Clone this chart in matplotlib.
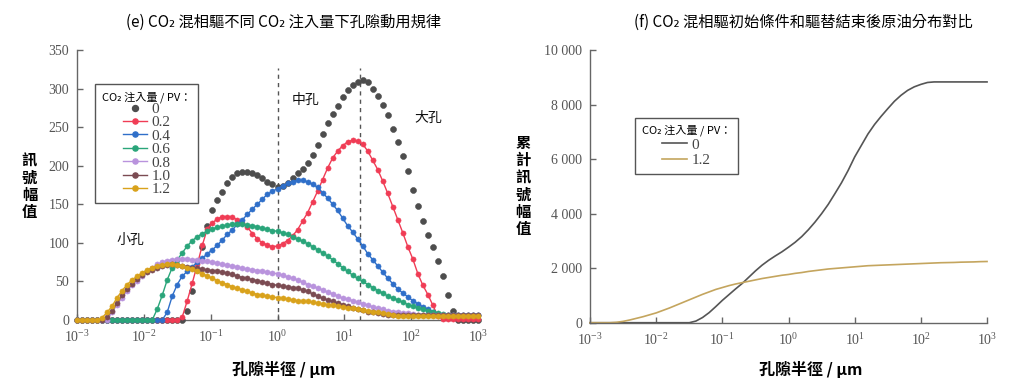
import numpy as np
import matplotlib
matplotlib.use('Agg')
import matplotlib.pyplot as plt
from matplotlib.lines import Line2D
from matplotlib.ticker import NullLocator

plt.rcParams['font.family'] = ['Noto Sans CJK TC', 'DejaVu Sans']
plt.rcParams['mathtext.fontset'] = 'custom'
plt.rcParams['mathtext.rm'] = 'Liberation Serif'
plt.rcParams['mathtext.it'] = 'Liberation Serif:italic'
plt.rcParams['mathtext.bf'] = 'Liberation Serif:bold'

# ---------------- data: panel (e) ----------------
radius_e = np.logspace(-3, 3, 81)   # pore radius bins, um
series_labels = ['0', '0.2', '0.4', '0.6', '0.8', '1.0', '1.2']

amp_00 = [0, 0, 0, 0, 0, 0, 0, 0, 0, 0, 0, 0, 0, 0, 0, 0, 0, 0, 0, 0, 0, 0,
          12, 38, 65, 95, 122, 142, 156, 166, 178, 185, 190, 192, 192, 190, 188, 184, 179, 176, 173,
          174, 178, 184, 190, 196, 203, 214, 227, 241, 255, 267, 278, 289, 298, 305, 309, 311,
          308, 300, 290, 279, 266, 248, 231, 212, 193, 169, 148, 128, 110, 94, 76, 57, 32, 12,
          0, 0, 0, 0, 0]
amp_02 = [0, 0, 0, 0, 0, 0, 0, 0, 0, 0, 0, 0, 0, 0, 0, 0, 0, 0, 0, 0, 0,
          4, 25, 48, 72, 97, 118, 126, 131, 134, 134, 133, 130, 126, 120, 112, 105, 100, 97, 95, 96,
          99, 103, 109, 117, 128, 139, 153, 167, 182, 197, 210, 219, 226, 231, 233, 232, 228,
          219, 207, 195, 180, 164, 147, 130, 113, 95, 79, 60, 45, 33, 19, 5,
          1, 1, 1, 1, 1, 1, 1, 1]
amp_04 = [0, 0, 0, 0, 0, 0, 0, 0, 0, 0, 0, 0, 0, 0, 0, 0, 0, 0,
          10, 31, 46, 57, 63, 69, 75, 80, 86, 91, 97, 104, 111, 117, 124, 130, 137, 144, 150, 157, 163, 167, 170,
          174, 177, 179, 181, 181, 179, 176, 172, 165, 158, 150, 142, 132, 122, 114, 105, 96, 86, 78, 70,
          62, 54, 47, 40, 35, 30, 25, 21, 17, 14, 11, 8, 6,
          6, 6, 6, 6, 6, 6, 6]
amp_06 = [0, 0, 0, 0, 0, 0, 0, 0, 0, 0, 0, 0, 0, 0, 0, 0,
          14, 32, 52, 68, 78, 87, 96, 103, 108, 112, 115, 118, 120, 122, 123, 124, 124, 124, 123, 122,
          121, 119, 118, 116, 115,
          113, 111, 108, 105, 102, 99, 95, 91, 87, 83, 78, 73, 68, 63, 58, 54, 50, 46, 42, 38,
          35, 31, 28, 26, 23, 20, 18, 16, 14, 12, 10, 9, 8,
          7, 7, 7, 7, 7, 7, 7]
amp_08 = [0, 0, 0, 0, 0, 0, 0,
          10, 20, 29, 38, 45, 51, 57, 63, 68, 72, 75, 77, 78, 79, 79, 79, 78, 78, 77, 76,
          75, 74, 72, 71, 70, 69, 67, 66, 65, 64, 63, 62, 61, 60,
          58, 56, 54, 52, 49, 46, 44, 41, 39, 36, 34, 31, 28, 27, 25, 23, 21, 19, 17, 15,
          14, 12, 11, 10, 9, 9, 8,
          7, 7, 7, 7, 7, 7, 7, 7, 7, 7, 7, 7, 7]
amp_10 = [0, 0, 0, 0, 0, 0,
          4, 12, 22, 32, 40, 47, 53, 58, 62, 65, 68, 70, 71, 72, 71, 70, 69, 68, 67, 66,
          65, 64, 63, 62, 61, 59, 57, 55, 54, 52, 51, 49, 48, 46, 45,
          44, 43, 42, 41, 39, 37, 34, 31, 28, 26, 24, 22, 20, 18, 16, 14, 13, 11, 10, 9, 8, 7,
          6, 6, 6, 6, 6, 6, 6, 6, 6, 6, 6, 6, 6, 6, 6, 6, 6, 6]
amp_12 = [0, 0, 0, 0, 0,
          3, 10, 18, 29, 38, 46, 52, 57, 61, 65, 68, 70, 71, 72, 72, 71, 70, 68, 66, 63,
          60, 57, 54, 51, 48, 46, 43, 41, 39, 37, 35, 33, 32, 31, 30, 29,
          28, 27, 26, 25, 24, 24, 23, 22, 21, 20, 19, 18, 17, 16, 15, 14, 13, 12, 11, 10, 9, 8, 7,
          5, 5, 5, 5, 5, 5, 5, 5, 5, 5, 5, 5, 5, 5, 5, 5, 5]
amp_series = [amp_00, amp_02, amp_04, amp_06, amp_08, amp_10, amp_12]
pore_bounds = [1.0, 17.4]          # small/medium, medium/large boundaries (um)
region_labels = ['小孔', '中孔', '大孔']
region_pos = [(0.0062, 104), (2.6, 285), (178, 262)]

# ---------------- data: panel (f) ----------------
radius_f = np.logspace(-3, 3, 61)
cum_00 = [0, 0, 0, 0, 0, 0, 0, 0, 0, 0, 0, 0, 0, 0, 0, 0,
          60, 190, 370, 590, 820, 1030, 1240, 1440, 1670, 1900, 2110, 2290, 2450, 2600, 2770,
          2950, 3160, 3410, 3690, 4000, 4340, 4730, 5130, 5580, 6080, 6500, 6920, 7270, 7570, 7850,
          8120, 8340, 8520, 8650, 8740, 8810, 8830,
          8830, 8830, 8830, 8830, 8830, 8830, 8830, 8830]
cum_12 = [0, 0, 0, 0,
          15, 50, 100, 160, 220, 290, 360, 450, 540, 640, 740, 840, 940, 1040, 1130, 1220,
          1290, 1360, 1420, 1470, 1520, 1570, 1620, 1660, 1700, 1740, 1770,
          1810, 1840, 1880, 1910, 1940, 1970, 1990, 2010, 2030, 2050, 2070, 2090, 2100, 2110, 2120,
          2130, 2140, 2150, 2160, 2170, 2180, 2190, 2200, 2205, 2210, 2220, 2225, 2230, 2240, 2245]
cum_labels = ['0', '1.2']

xtick_vals = [1e-3, 1e-2, 1e-1, 1e0, 1e1, 1e2, 1e3]
xtick_text = ['$10^{-3}$', '$10^{-2}$', '$10^{-1}$', '$10^{0}$', '$10^{1}$', '$10^{2}$', '$10^{3}$']
ytick_e = [0, 50, 100, 150, 200, 250, 300, 350]
ytick_f = [0, 2000, 4000, 6000, 8000, 10000]
ytick_f_text = ['0', '2 000', '4 000', '6 000', '8 000', '10 000']

# ---------------- style ----------------
colors_e = ['#4d4d4d', '#f03c55', '#2f6fc9', '#2aa57a', '#b993dd', '#7b4b52', '#d9a21b']
colors_f = ['#555555', '#c4a55e']
spine_c = '#666666'
tick_c = '#555555'
serif = 'Liberation Serif'
cjk = ['Noto Sans CJK TC', 'DejaVu Sans']

fig = plt.figure(figsize=(10.24, 3.89), dpi=100)
ax1 = fig.add_axes([0.0752, 0.1774, 0.3916, 0.694])
ax2 = fig.add_axes([0.5762, 0.1704, 0.3877, 0.701])


def style_axes(ax):
    for s in ['top', 'right']:
        ax.spines[s].set_visible(False)
    for s in ['left', 'bottom']:
        ax.spines[s].set_color(spine_c)
        ax.spines[s].set_linewidth(1.0)
    ax.set_xscale('log')
    ax.set_xlim(1e-3, 1e3)
    ax.xaxis.set_minor_locator(NullLocator())
    ax.set_xticks(xtick_vals)
    ax.set_xticklabels(xtick_text)
    ax.tick_params(direction='in', length=4, width=1, color=spine_c,
                   labelcolor=tick_c, labelsize=10)
    ax.tick_params(axis='x', pad=6.5)
    ax.tick_params(axis='y', pad=5.5)


# panel (e)
style_axes(ax1)
ax1.set_ylim(0, 350)
ax1.set_yticks(ytick_e)
ax1.set_yticklabels([str(v) for v in ytick_e], fontfamily=serif)

for i, (vals, c) in enumerate(zip(amp_series, colors_e)):
    if i == 0:
        ax1.plot(radius_e, vals, ls='none', marker='o', ms=4.3, mfc=c, mec=c,
                 mew=0.4, clip_on=False, zorder=3)
    else:
        ax1.plot(radius_e, vals, ls='-', lw=1.0, color=c, marker='o', ms=3.7,
                 mfc=c, mec=c, mew=0.4, clip_on=False, zorder=3 + i)

for b in pore_bounds:
    ax1.axvline(b, ymin=0, ymax=0.935, color='#555555', lw=1.0, ls=(0, (3, 3)), zorder=2)

for t, (x, y) in zip(region_labels, region_pos):
    ax1.text(x, y, t, fontsize=10, ha='center', va='center', color='#111111')

handles_e = []
for i, c in enumerate(colors_e):
    if i == 0:
        handles_e.append(Line2D([], [], ls='none', marker='o', ms=4.3, mfc=c, mec=c))
    else:
        handles_e.append(Line2D([], [], ls='-', lw=1.0, color=c, marker='o', ms=3.7, mfc=c, mec=c))
leg1 = ax1.legend(handles_e, series_labels, loc='upper left', bbox_to_anchor=(0.045, 0.874),
                  borderaxespad=0, frameon=True, fancybox=False, edgecolor='#555555',
                  framealpha=1, prop={'family': serif, 'size': 11},
                  title='CO₂ 注入量 / PV：', title_fontproperties={'family': cjk, 'size': 8},
                  labelspacing=-0.02, handlelength=1.6, handletextpad=0.3, borderpad=0.45,
                  labelcolor='#444444')
leg1.get_frame().set_linewidth(1.0)
leg1.set_zorder(20)

# panel (f)
style_axes(ax2)
ax2.set_ylim(0, 10000)
ax2.set_yticks(ytick_f)
ax2.set_yticklabels(ytick_f_text, fontfamily=serif)
for vals, c, lab in zip([cum_00, cum_12], colors_f, cum_labels):
    ax2.plot(radius_f, vals, color=c, lw=1.2, label=lab, clip_on=False)
leg2 = ax2.legend(loc='upper left', bbox_to_anchor=(0.113, 0.751), borderaxespad=0,
                  frameon=True, fancybox=False, edgecolor='#555555', framealpha=1,
                  prop={'family': serif, 'size': 11},
                  title='CO₂ 注入量 / PV：', title_fontproperties={'family': cjk, 'size': 8},
                  labelspacing=0.1, handlelength=1.6, handletextpad=0.3, borderpad=0.45,
                  labelcolor='#444444')
leg2.get_frame().set_linewidth(1.0)

for lab in ax1.get_xticklabels() + ax2.get_xticklabels():
    lab.set_fontfamily(serif)

# titles and axis labels
fig.text(284 / 1024, 1 - 22 / 389, '(e) CO₂ 混相驅不同 CO₂ 注入量下孔隙動用規律',
         ha='center', va='center', fontsize=11, family=cjk)
fig.text(803 / 1024, 1 - 22 / 389, '(f) CO₂ 混相驅初始條件和驅替結束後原油分布對比',
         ha='center', va='center', fontsize=11, family=cjk)
fig.text(284 / 1024, 1 - 370 / 389, '孔隙半徑 / μm', ha='center', va='center',
         fontsize=11.5, fontweight='bold', family=cjk)
fig.text(811 / 1024, 1 - 370 / 389, '孔隙半徑 / μm', ha='center', va='center',
         fontsize=11.5, fontweight='bold', family=cjk)
fig.text(29.5 / 1024, 1 - 186 / 389, '\n'.join('訊號幅值'), ha='center', va='center',
         fontsize=11, fontweight='bold', family=cjk, linespacing=1.1)
fig.text(523 / 1024, 1 - 186 / 389, '\n'.join('累計訊號幅值'), ha='center', va='center',
         fontsize=11, fontweight='bold', family=cjk, linespacing=1.1)

fig.savefig('out.png', dpi=100)
